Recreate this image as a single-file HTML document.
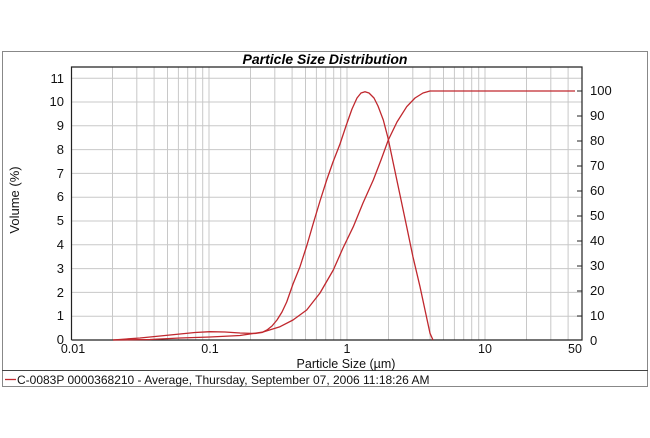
<!DOCTYPE html>
<html><head><meta charset="utf-8"><style>
html,body{margin:0;padding:0;background:#fff;}
svg{display:block;font-family:"Liberation Sans",sans-serif;}
</style></head><body>
<svg width="650" height="438" viewBox="0 0 650 438" xmlns="http://www.w3.org/2000/svg">
<rect x="2.5" y="51.5" width="645" height="335" fill="none" stroke="#888" stroke-width="1"/>
<line x1="2" y1="370.5" x2="648" y2="370.5" stroke="#444" stroke-width="1"/>
<text x="325" y="64" text-anchor="middle" font-size="14" font-weight="bold" font-style="italic">Particle Size Distribution</text>
<g stroke="#c8c8c8" stroke-width="1">
<line x1="112.5" y1="67" x2="112.5" y2="340"/><line x1="136.8" y1="67" x2="136.8" y2="340"/><line x1="154.1" y1="67" x2="154.1" y2="340"/><line x1="167.5" y1="67" x2="167.5" y2="340"/><line x1="178.4" y1="67" x2="178.4" y2="340"/><line x1="187.7" y1="67" x2="187.7" y2="340"/><line x1="195.7" y1="67" x2="195.7" y2="340"/><line x1="202.7" y1="67" x2="202.7" y2="340"/><line x1="209" y1="67" x2="209" y2="340"/>
<line x1="250.5" y1="67" x2="250.5" y2="340"/><line x1="274.8" y1="67" x2="274.8" y2="340"/><line x1="292.1" y1="67" x2="292.1" y2="340"/><line x1="305.5" y1="67" x2="305.5" y2="340"/><line x1="316.4" y1="67" x2="316.4" y2="340"/><line x1="325.7" y1="67" x2="325.7" y2="340"/><line x1="333.7" y1="67" x2="333.7" y2="340"/><line x1="340.7" y1="67" x2="340.7" y2="340"/><line x1="347" y1="67" x2="347" y2="340"/>
<line x1="388.5" y1="67" x2="388.5" y2="340"/><line x1="412.8" y1="67" x2="412.8" y2="340"/><line x1="430.1" y1="67" x2="430.1" y2="340"/><line x1="443.5" y1="67" x2="443.5" y2="340"/><line x1="454.4" y1="67" x2="454.4" y2="340"/><line x1="463.7" y1="67" x2="463.7" y2="340"/><line x1="471.7" y1="67" x2="471.7" y2="340"/><line x1="478.7" y1="67" x2="478.7" y2="340"/><line x1="485" y1="67" x2="485" y2="340"/>
<line x1="526.5" y1="67" x2="526.5" y2="340"/><line x1="550.8" y1="67" x2="550.8" y2="340"/><line x1="568.1" y1="67" x2="568.1" y2="340"/>
<line x1="71" y1="316.2" x2="582" y2="316.2"/><line x1="71" y1="292.4" x2="582" y2="292.4"/><line x1="71" y1="268.6" x2="582" y2="268.6"/><line x1="71" y1="244.8" x2="582" y2="244.8"/><line x1="71" y1="221" x2="582" y2="221"/><line x1="71" y1="197.2" x2="582" y2="197.2"/><line x1="71" y1="173.4" x2="582" y2="173.4"/><line x1="71" y1="149.6" x2="582" y2="149.6"/><line x1="71" y1="125.8" x2="582" y2="125.8"/><line x1="71" y1="102" x2="582" y2="102"/><line x1="71" y1="78.2" x2="582" y2="78.2"/>
</g>
<g stroke="#222" stroke-width="1.2" fill="none">
<polyline points="71.5,340 71.5,67 582,67 582,340 71.5,340"/>
</g>
<g stroke="#222" stroke-width="1">
<line x1="577" y1="91" x2="582" y2="91"/><line x1="577" y1="116" x2="582" y2="116"/><line x1="577" y1="141" x2="582" y2="141"/><line x1="577" y1="166" x2="582" y2="166"/><line x1="577" y1="191" x2="582" y2="191"/><line x1="577" y1="216" x2="582" y2="216"/><line x1="577" y1="241" x2="582" y2="241"/><line x1="577" y1="266" x2="582" y2="266"/><line x1="577" y1="291" x2="582" y2="291"/><line x1="577" y1="316" x2="582" y2="316"/>
</g>
<g font-size="13" text-anchor="end" fill="#111">
<text x="64" y="344">0</text><text x="64" y="320">1</text><text x="64" y="297">2</text><text x="64" y="273">3</text><text x="64" y="249">4</text><text x="64" y="225">5</text><text x="64" y="201">6</text><text x="64" y="178">7</text><text x="64" y="154">8</text><text x="64" y="130">9</text><text x="64" y="106">10</text><text x="64" y="83">11</text>
</g>
<g font-size="13" fill="#111">
<text x="590" y="345">0</text><text x="590" y="320">10</text><text x="590" y="295">20</text><text x="590" y="270">30</text><text x="590" y="245">40</text><text x="590" y="220">50</text><text x="590" y="195">60</text><text x="590" y="170">70</text><text x="590" y="145">80</text><text x="590" y="120">90</text><text x="590" y="95">100</text>
</g>
<g font-size="12.5" text-anchor="middle" fill="#111">
<text x="73" y="353">0.01</text><text x="210" y="353">0.1</text><text x="347" y="353">1</text><text x="485" y="353">10</text><text x="575" y="353">50</text>
<text x="346" y="368">Particle Size (µm)</text>
</g>
<text transform="translate(19,200) rotate(-90)" font-size="13" text-anchor="middle" fill="#111">Volume (%)</text>
<g fill="none" stroke="#c0282e" stroke-width="1.3" stroke-linejoin="round">
<polyline points="113,340 140,338 160,336 180,334 195,332.5 210,331.7 225,332 240,333 255,333.5 262,332.5 267,330 272,326 277,320 282,312 286.7,302 293,284 300,266.7 307,245 313.3,223.3 320,201 326.7,180 333,162 340,144 346,126 352,109 357,98 361,93 365,91.7 369,93 374,98 378,106 383.3,120 388,138 393.3,163.3 400,195 406.7,226.7 413,257 420,286.7 425,310 430,333.3 433,340"/>
<polyline points="113,340 150,339.5 180,338 210,337 240,335.5 263,332 280,326.7 293,320 306.7,310 320,293 333.3,270 343,248 353.3,226.7 363,203 373.3,180 381,160 388.3,140 397,122 406.7,106.7 415,98 423,93 430,91 575,91"/>
</g>
<line x1="5" y1="379.5" x2="16" y2="379.5" stroke="#c0282e" stroke-width="1.3"/>
<text x="17" y="384" font-size="12" fill="#111">C-0083P 0000368210 - Average, Thursday, September 07, 2006 11:18:26 AM</text>
</svg>
</body></html>
